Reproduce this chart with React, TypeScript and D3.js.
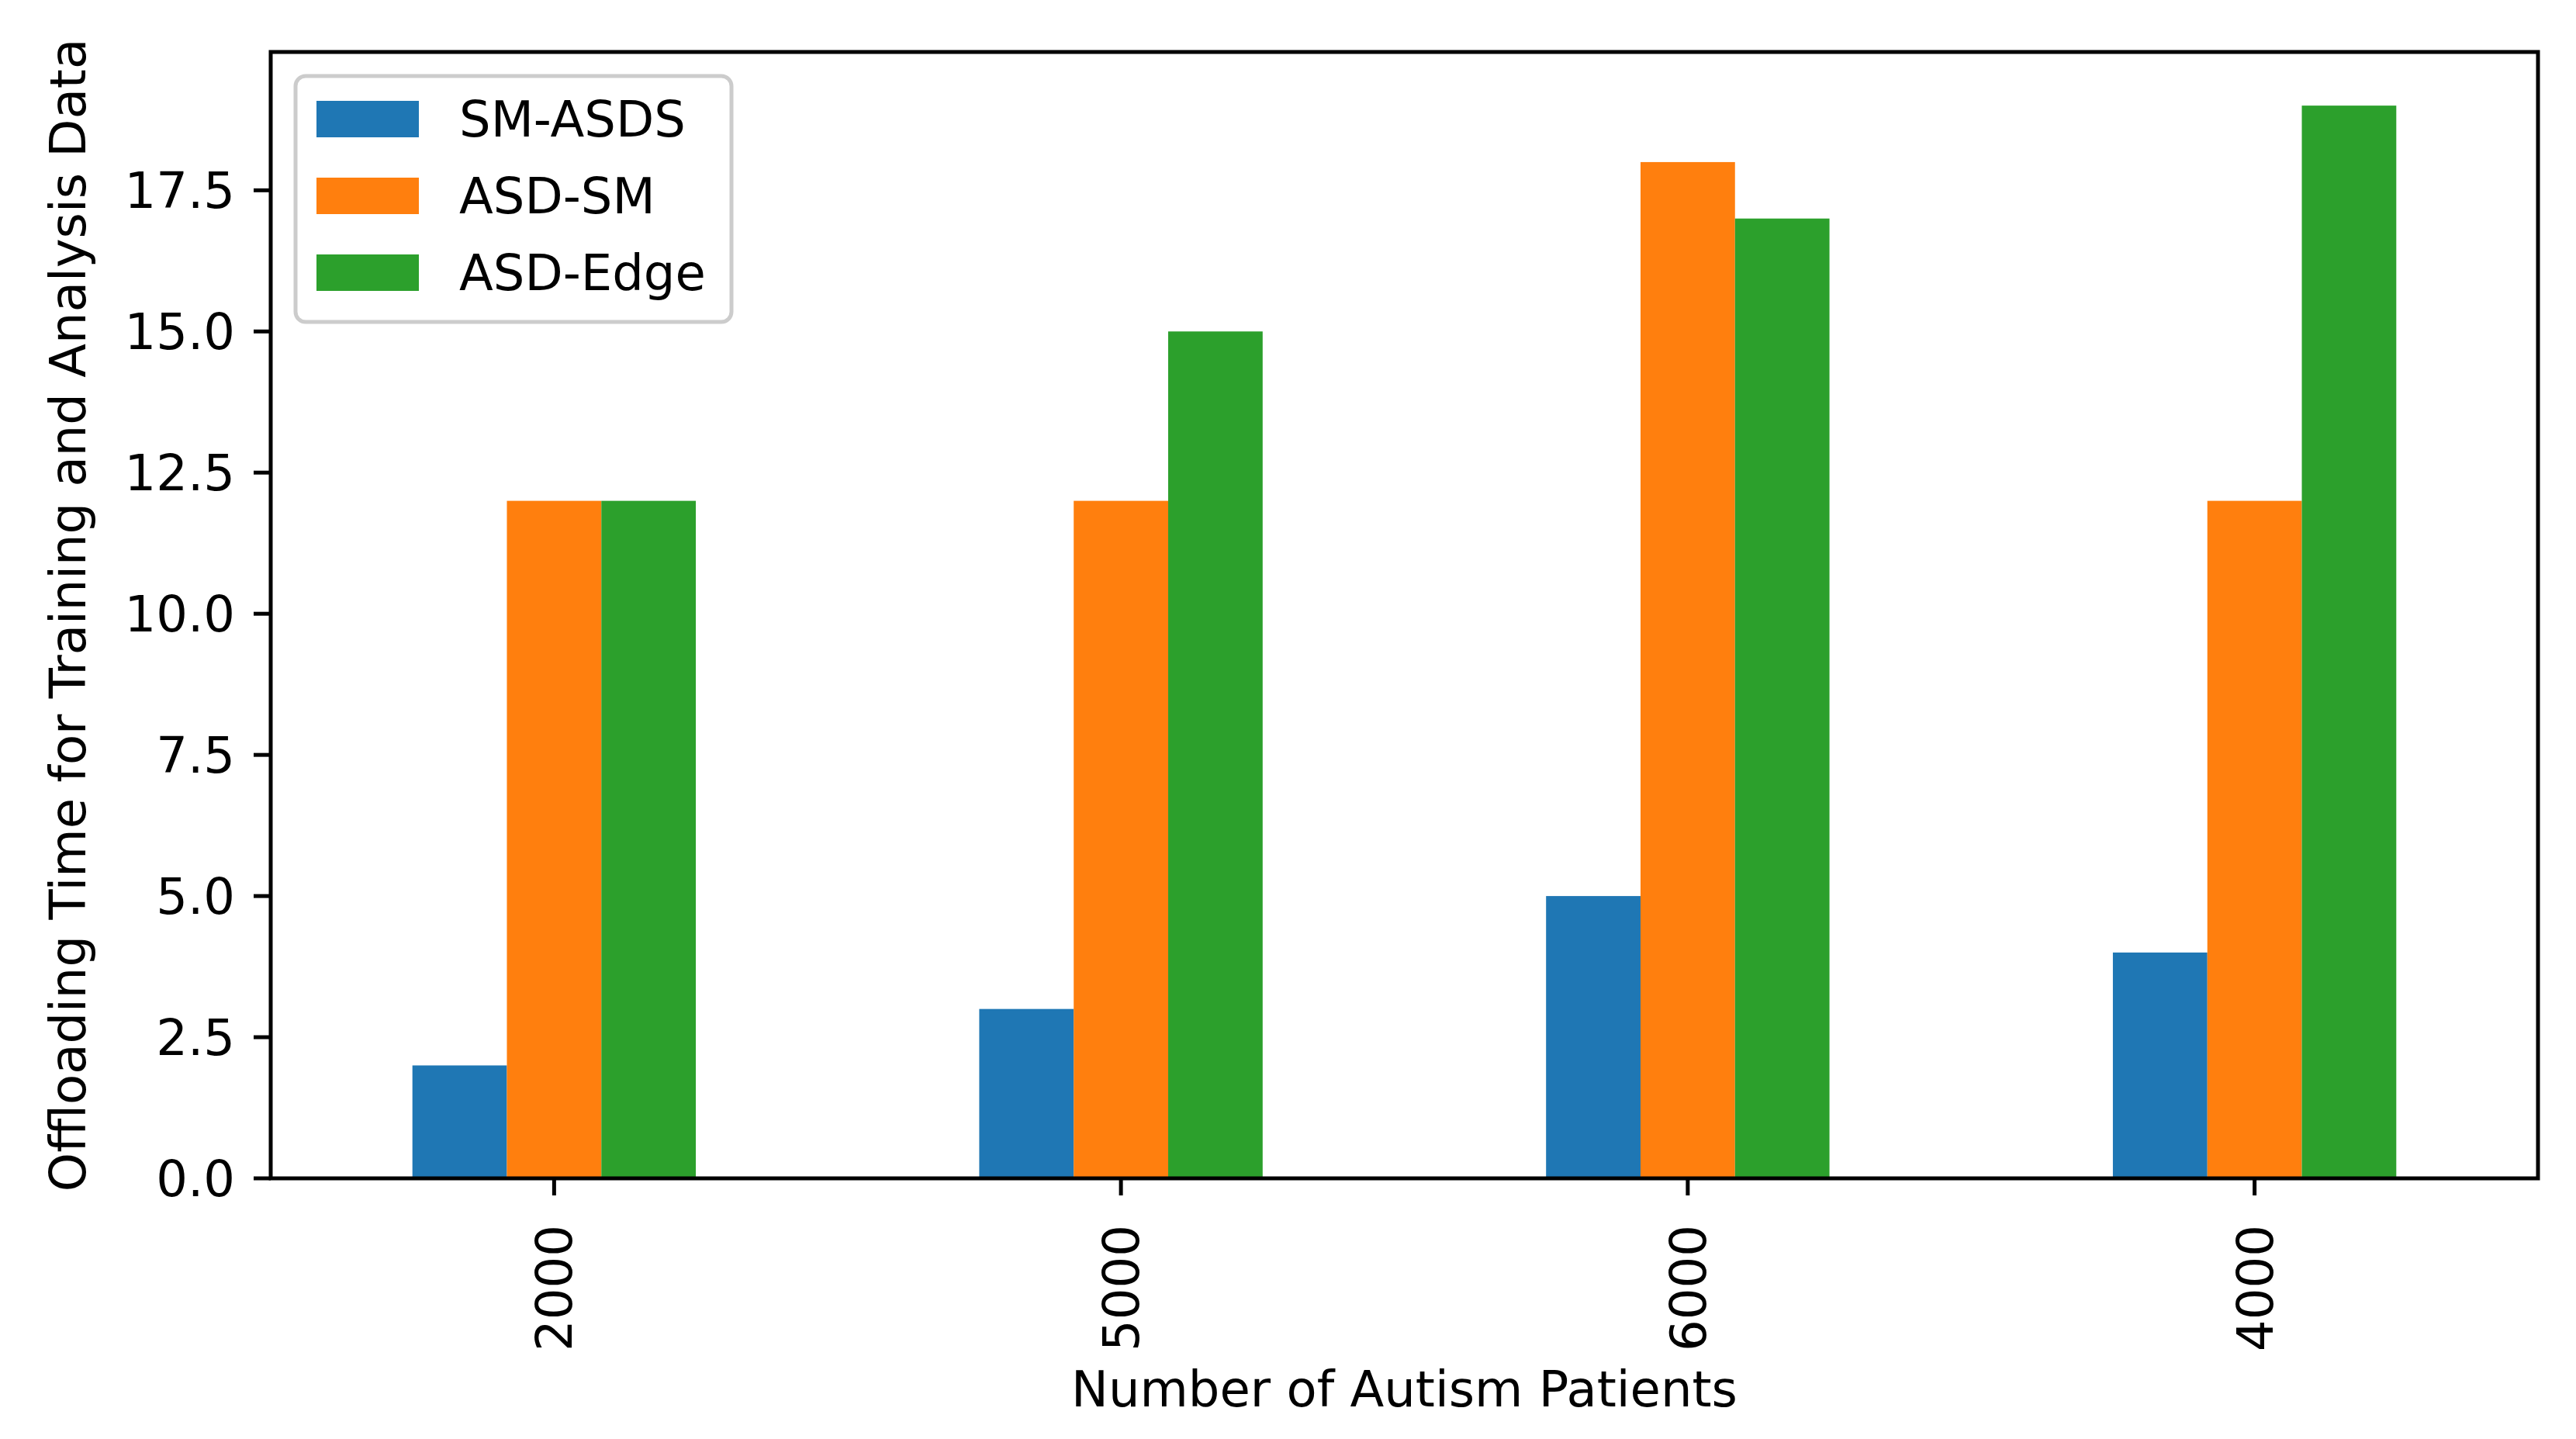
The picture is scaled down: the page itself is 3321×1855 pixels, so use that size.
import React from "react";
import * as d3 from "d3";

const categories = ["2000", "5000", "6000", "4000"];
const seriesNames = ["SM-ASDS", "ASD-SM", "ASD-Edge"];
const smAsds = [2, 3, 5, 4];
const asdSm = [12, 12, 18, 12];
const asdEdge = [12, 15, 17, 19];
const yTicks = [0, 2.5, 5, 7.5, 10, 12.5, 15, 17.5];
const colors = ["#1f77b4", "#ff7f0e", "#2ca02c"];

const W = 3321;
const H = 1855;
const L = 349, R = 3272, T = 67, B = 1519;
const FS = 64;
const FONT = "DejaVu Sans, sans-serif";

export default function App() {
  const series = [smAsds, asdSm, asdEdge];
  const x = d3.scaleLinear().domain([-0.5, categories.length - 0.5]).range([L, R]);
  const y = d3.scaleLinear().domain([0, 19.95]).range([B, T]);
  const barW = 0.5 / series.length;
  const fmt = d3.format(".1f");
  const tickLen = 22;
  const lw = 5;

  return (
    <div style={{ position: "absolute", left: 0, top: 0 }}>
      <svg width={W} height={H} xmlns="http://www.w3.org/2000/svg" style={{ display: "block", background: "#fff" }}>
        <rect x={0} y={0} width={W} height={H} fill="#fff" />
        {series.map((vals, si) =>
          vals.map((v, ci) => {
            const x0 = x(ci - 0.25 + si * barW);
            const x1 = x(ci - 0.25 + (si + 1) * barW);
            return (
              <rect key={`${si}-${ci}`} x={x0} y={y(v)} width={x1 - x0} height={y(0) - y(v)} fill={colors[si]} />
            );
          })
        )}
        <rect x={L} y={T} width={R - L} height={B - T} fill="none" stroke="#000" strokeWidth={lw} />
        {yTicks.map((t) => (
          <g key={t}>
            <line x1={L - tickLen} x2={L} y1={y(t)} y2={y(t)} stroke="#000" strokeWidth={lw} />
            <text x={L - tickLen - 24} y={y(t)} dy="0.36em" textAnchor="end" fontFamily={FONT} fontSize={FS} fill="#000">
              {fmt(t)}
            </text>
          </g>
        ))}
        {categories.map((c, i) => (
          <g key={c}>
            <line x1={x(i)} x2={x(i)} y1={B} y2={B + tickLen} stroke="#000" strokeWidth={lw} />
            <text
              transform={`translate(${x(i)},${B + tickLen + 38}) rotate(-90)`}
              textAnchor="end"
              dy="0.36em"
              fontFamily={FONT}
              fontSize={FS}
              fill="#000"
            >
              {c}
            </text>
          </g>
        ))}
        <text x={(L + R) / 2} y={1813} textAnchor="middle" fontFamily={FONT} fontSize={FS} fill="#000">
          Number of Autism Patients
        </text>
        <text
          transform={`translate(110,${(T + B) / 2}) rotate(-90)`}
          textAnchor="middle"
          fontFamily={FONT}
          fontSize={FS}
          fill="#000"
        >
          Offloading Time for Training and Analysis Data
        </text>
        <rect x={381} y={98} width={562} height={317} rx={13} ry={13} fill="#fff" fillOpacity={0.8} stroke="#cccccc" strokeWidth={5} />
        {seriesNames.map((n, i) => {
          const cy = 153 + i * 99;
          return (
            <g key={n}>
              <rect x={408} y={cy - 23} width={132} height={47} fill={colors[i]} />
              <text x={592} y={cy} dy="0.36em" fontFamily={FONT} fontSize={FS} fill="#000">
                {n}
              </text>
            </g>
          );
        })}
      </svg>
    </div>
  );
}
